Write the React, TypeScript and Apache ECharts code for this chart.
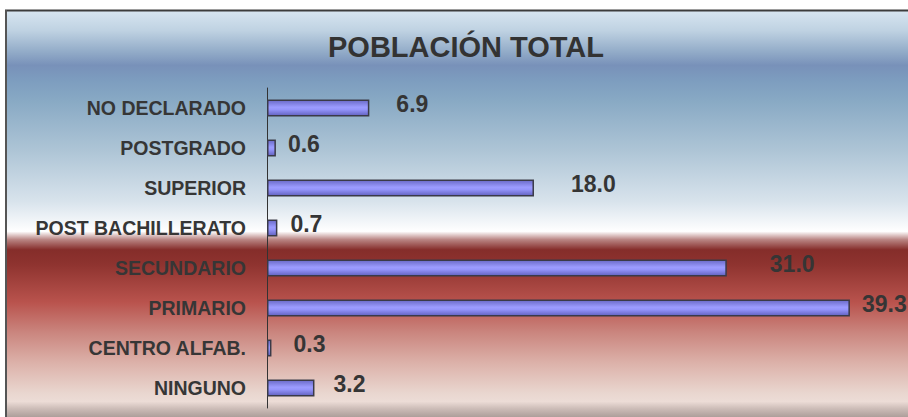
import React, { useEffect, useRef } from "react";
import * as echarts from "echarts";

const categories = [
  "NO DECLARADO",
  "POSTGRADO",
  "SUPERIOR",
  "POST BACHILLERATO",
  "SECUNDARIO",
  "PRIMARIO",
  "CENTRO ALFAB.",
  "NINGUNO",
];
const values = [6.9, 0.6, 18.0, 0.7, 31.0, 39.3, 0.3, 3.2];
const titleText = "POBLACIÓN TOTAL";
// horizontal gap (px) between bar end and its value label, as in the reference
const labelGaps = [27, 12, 37, 13, 43, 12, 22, 19];

const FONT = "'Liberation Sans', Arial, sans-serif";

export default function App() {
  const ref = useRef<HTMLDivElement>(null);

  useEffect(() => {
    if (!ref.current) return;
    const chart = echarts.init(ref.current, undefined, { renderer: "svg" });

    const bgGradient = new echarts.graphic.LinearGradient(0, 0, 0, 1, [
      { offset: 0, color: "#d8e6f1" },
      { offset: 0.05, color: "#bfd2e2" },
      { offset: 0.1, color: "#94adc9" },
      { offset: 0.135, color: "#7891b9" },
      { offset: 0.172, color: "#7d9dbf" },
      { offset: 0.22, color: "#88a9c4" },
      { offset: 0.344, color: "#aec5d6" },
      { offset: 0.467, color: "#d8e3ec" },
      { offset: 0.525, color: "#f7f9fb" },
      { offset: 0.54, color: "#ffffff" },
      { offset: 0.56, color: "#b98583" },
      { offset: 0.585, color: "#852d2a" },
      { offset: 0.62, color: "#8e332f" },
      { offset: 0.713, color: "#b9534d" },
      { offset: 0.786, color: "#ca857e" },
      { offset: 0.86, color: "#dcb1a9" },
      { offset: 0.934, color: "#e9d6cf" },
      { offset: 0.955, color: "#ecdcd6" },
      { offset: 0.972, color: "#cdbdb8" },
      { offset: 1, color: "#a29490" },
    ]);

    const barGradient = new echarts.graphic.LinearGradient(0, 0, 0, 1, [
      { offset: 0, color: "#6a6ac8" },
      { offset: 0.45, color: "#9c9cff" },
      { offset: 0.6, color: "#9494fa" },
      { offset: 1, color: "#6262c0" },
    ]);

    chart.setOption({
      animation: false,
      backgroundColor: "#ffffff",
      title: {
        text: titleText,
        left: 461,
        top: 42,
        textAlign: "center",
        textVerticalAlign: "middle",
        textStyle: {
          fontFamily: FONT,
          fontWeight: "bold",
          fontSize: 29,
          color: "#333333",
        },
      },
      graphic: [
        {
          type: "rect",
          z: -10,
          silent: true,
          shape: { x: 6, y: 10, width: 910, height: 410 },
          style: { fill: bgGradient },
        },
        {
          type: "line",
          z: -9,
          silent: true,
          shape: { x1: 5, y1: 10.5, x2: 910, y2: 10.5 },
          style: { stroke: "#3c3c3c", lineWidth: 2 },
        },
        {
          type: "line",
          z: -9,
          silent: true,
          shape: { x1: 6, y1: 10, x2: 6, y2: 420 },
          style: { stroke: "#555555", lineWidth: 2 },
        },
      ],
      grid: {
        left: 267,
        top: 88,
        width: 593.3,
        height: 320,
        containLabel: false,
      },
      xAxis: {
        type: "value",
        min: 0,
        max: 40,
        show: false,
        splitLine: { show: false },
      },
      yAxis: {
        type: "category",
        inverse: true,
        data: categories,
        axisLine: { show: true, lineStyle: { color: "#333333", width: 1 } },
        axisTick: { show: false },
        axisLabel: {
          margin: 21,
          fontFamily: FONT,
          fontWeight: "bold",
          fontSize: 19.5,
          color: "#363636",
        },
      },
      series: [
        {
          type: "bar",
          barWidth: 17,
          data: values.map((v, i) => ({
            value: v,
            label: { offset: [labelGaps[i], -4] },
          })),
          itemStyle: {
            color: barGradient,
            borderColor: "#3a3a48",
            borderWidth: 1.5,
          },
          label: {
            show: true,
            position: "right",
            distance: 0,
            formatter: (p: any) => Number(p.value).toFixed(1),
            fontFamily: FONT,
            fontWeight: "bold",
            fontSize: 23,
            color: "#353535",
          },
        },
      ],
    });

    return () => chart.dispose();
  }, []);

  return (
    <div
      ref={ref}
      style={{ position: "fixed", left: 0, top: 0, width: 908, height: 417 }}
    />
  );
}
